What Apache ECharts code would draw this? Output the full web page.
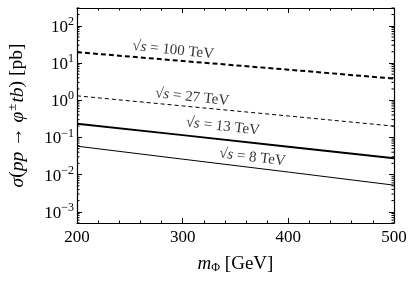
<!DOCTYPE html>
<html>
<head>
<meta charset="utf-8">
<script src="https://cdn.jsdelivr.net/npm/echarts@6/dist/echarts.min.js"></script>
<style>html,body{margin:0;padding:0;background:#fff}#c{width:416px;height:284px}</style>
</head>
<body>
<div id="c"></div>
<script>
// ---- data ----
const mass = [200, 300, 400, 500];
const xs100 = [19.5, 11.3, 6.6, 3.8];
const xs27 = [1.31, 0.70, 0.376, 0.20];
const xs13 = [0.234, 0.115, 0.056, 0.0275];
const xs8 = [0.058, 0.026, 0.0117, 0.0052];
const xTickLabels = [200, 300, 400, 500];
const yMin = 5e-4, yMax = 300;
const labelTexts = ['100', '27', '13', '8'];
const labelX = [291, 309, 338, 366];
const labelY = [22, 1.2, 0.195, 0.029];
const labelRot = [-6, -6, -6.5, -7];
const yMinorTicks = [];
for (let e = -4; e <= 2; e++) for (let k = 2; k <= 9; k++) { const v = k * Math.pow(10, e); if (v >= yMin && v <= yMax) yMinorTicks.push(+v.toPrecision(3)); }

const FONT = 'Liberation Serif';
const toPairs = ys => mass.map((m, i) => [m, ys[i]]);
const chart = echarts.init(document.getElementById('c'));
const supRich = {
  b: {fontSize: 17, fontFamily: FONT, color: '#000', verticalAlign: 'bottom'},
  s: {fontSize: 12, fontFamily: FONT, color: '#000', verticalAlign: 'bottom', padding: [0, 0, 8, 0]}
};
function lineSeries(data, width, dashed) {
  return {type: 'line', data: toPairs(data), symbol: 'none', silent: true,
    lineStyle: {color: '#000', width: width, type: dashed ? dashed : 'solid'}};
}
const baseY = {
  type: 'log', min: yMin, max: yMax,
  axisLine: {show: true, lineStyle: {color: '#000', width: 1.2}},
  axisTick: {show: true, inside: true, length: 5, lineStyle: {color: '#000'}},
  splitLine: {show: false}
};
const baseX = {
  type: 'value', min: 200, max: 500, interval: 100,
  axisLine: {show: true, lineStyle: {color: '#000', width: 1.2}},
  axisTick: {show: true, inside: true, length: 5, lineStyle: {color: '#000'}},
  minorTick: {show: true, splitNumber: 5, length: 2.5, lineStyle: {color: '#000'}},
  splitLine: {show: false}
};
chart.setOption({
  animation: false,
  grid: {left: 77, right: 22, top: 8, bottom: 61, outerBoundsMode: 'none'},
  xAxis: [
    Object.assign({}, baseX, {position: 'bottom',
      axisLabel: {fontFamily: FONT, fontSize: 17, color: '#000', margin: 6,
        formatter: v => xTickLabels.includes(v) ? String(v) : ''},
      name: '{i|m}{sub|Φ} [GeV]', nameLocation: 'middle', nameGap: 31,
      nameTextStyle: {fontFamily: FONT, fontSize: 19, color: '#000',
        rich: {i: {fontFamily: FONT, fontSize: 19, fontStyle: 'italic', color: '#000'},
               sub: {fontFamily: FONT, fontSize: 12, color: '#000', verticalAlign: 'top', padding: [8, 0, 0, 0]}}}}),
    Object.assign({}, baseX, {position: 'top', axisLabel: {show: false}})
  ],
  yAxis: [
    Object.assign({}, baseY, {position: 'left',
      axisLabel: {margin: 3, showMinLabel: false, showMaxLabel: false, rich: supRich,
        formatter: v => { const e = Math.round(Math.log10(v)); return '{b|10}{s|' + (e < 0 ? '\u2212' + (-e) : e) + '}'; }},
      name: '{i|σ}({i|pp} → {i|φ}{sup|±}{i|tb}) [pb]', nameLocation: 'middle', nameGap: 49,
      nameTextStyle: {fontFamily: FONT, fontSize: 19.5, color: '#000',
        rich: {i: {fontFamily: FONT, fontSize: 19.5, fontStyle: 'italic', color: '#000', verticalAlign: 'bottom'},
               sup: {fontFamily: FONT, fontSize: 13, color: '#000', verticalAlign: 'bottom', padding: [0, 1, 9, 1]}}}}),
    Object.assign({}, baseY, {position: 'right', axisLabel: {show: false}})
  ],
  series: [
    lineSeries(xs100, 2, [5, 3]),
    lineSeries(xs27, 1, [4, 3]),
    lineSeries(xs13, 2),
    lineSeries(xs8, 1),
    {
      type: 'custom', silent: true, data: yMinorTicks.map(v => [200, v]),
      renderItem: (params, api) => {
        const v = api.value(1);
        const p1 = api.coord([200, v]);
        const p2 = api.coord([500, v]);
        return {type: 'group', children: [
          {type: 'line', shape: {x1: p1[0], y1: p1[1], x2: p1[0] + 2.5, y2: p1[1]}, style: {stroke: '#000', lineWidth: 1}},
          {type: 'line', shape: {x1: p2[0] - 2.5, y1: p2[1], x2: p2[0], y2: p2[1]}, style: {stroke: '#000', lineWidth: 1}}
        ]};
      }
    },
    {
      type: 'scatter', silent: true, symbolSize: 0,
      data: labelTexts.map((t, i) => ({value: [labelX[i], labelY[i]],
        label: {show: true, position: 'inside', rotate: labelRot[i],
          formatter: '√{i|s} = ' + t + ' TeV',
          fontFamily: FONT, fontSize: 15, color: '#000',
          rich: {i: {fontFamily: FONT, fontSize: 15, fontStyle: 'italic', color: '#000'}}}}))
    }
  ]
});
</script>
</body>
</html>
